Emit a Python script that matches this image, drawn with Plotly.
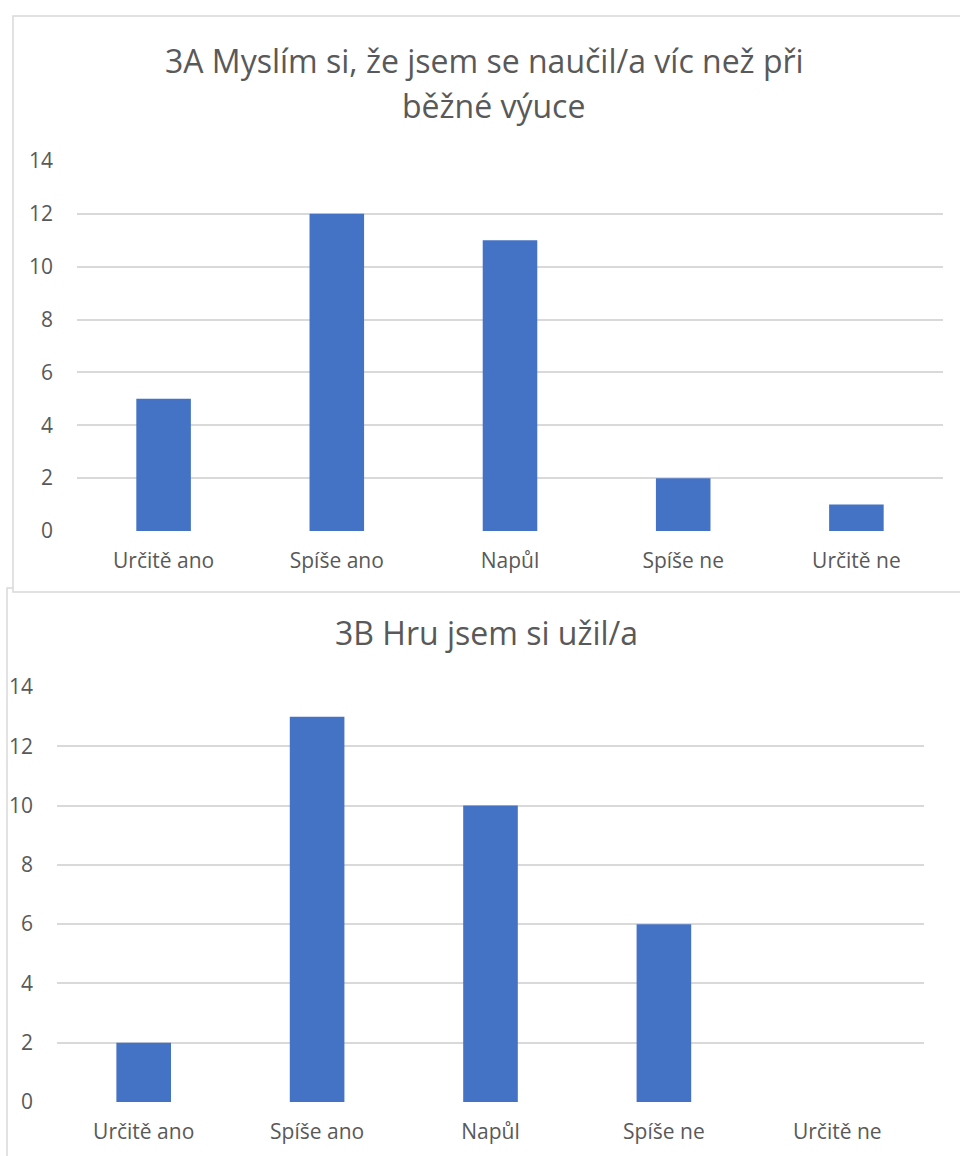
import plotly.graph_objects as go

W, H = 960, 1156

categories = ["Určitě ano", "Spíše ano", "Napůl", "Spíše ne", "Určitě ne"]
values_3a = [5, 12, 11, 2, 1]
values_3b = [2, 13, 10, 6, 0]
y_ticks = [0, 2, 4, 6, 8, 10, 12, 14]

title_3a_line1 = "3A Myslím si, že jsem se naučil/a víc než při"
title_3a_line2 = "běžné výuce"
title_3b = "3B Hru jsem si užil/a"

BAR = "#4472C4"
GRID = "#D9D9D9"
TEXT = "#595959"
FONT = "Open Sans"


def px_x(x):
    return x / W


def px_y(y):
    return 1 - y / H


fig = go.Figure()
fig.add_trace(go.Bar(x=categories, y=values_3a, marker=dict(color=BAR, line=dict(width=0)),
                     xaxis="x", yaxis="y", hoverinfo="x+y"))
fig.add_trace(go.Bar(x=categories, y=values_3b, marker=dict(color=BAR, line=dict(width=0)),
                     xaxis="x2", yaxis="y2", hoverinfo="x+y"))

tick_font = dict(family=FONT, size=21, color=TEXT)

common_x = dict(type="category", showgrid=False, zeroline=False, showline=False,
                ticks="", tickfont=tick_font, ticklabelstandoff=15, fixedrange=True,
                automargin=False)
common_y = dict(range=[0, 14], tickvals=y_ticks, showgrid=True, gridcolor=GRID, gridwidth=1.5,
                zeroline=False, showline=False, ticks="", tickfont=tick_font,
                ticklabelstandoff=23, fixedrange=True, automargin=False)

fig.update_layout(
    width=W, height=H,
    autosize=False,
    margin=dict(l=0, r=0, t=0, b=0, pad=0, autoexpand=False),
    paper_bgcolor="white",
    plot_bgcolor="rgba(0,0,0,0)",
    showlegend=False,
    bargap=0.685,
    xaxis=dict(domain=[px_x(77), px_x(943)], anchor="y", **common_x),
    yaxis=dict(domain=[px_y(531), px_y(161)], anchor="x", **common_y),
    xaxis2=dict(domain=[px_x(57), px_x(924)], anchor="y2", **common_x),
    yaxis2=dict(domain=[px_y(1102), px_y(687)], anchor="x2", **common_y),
    shapes=[
        # lower chart panel (partly hidden behind the upper one)
        dict(type="rect", xref="paper", yref="paper", layer="below",
             x0=px_x(7), x1=px_x(975), y0=px_y(1175), y1=px_y(588),
             fillcolor="white", line=dict(color=GRID, width=1.5)),
        # upper chart panel
        dict(type="rect", xref="paper", yref="paper", layer="below",
             x0=px_x(13), x1=px_x(975), y0=px_y(592), y1=px_y(16),
             fillcolor="white", line=dict(color=GRID, width=1.5)),
    ],
    annotations=[
        dict(text=title_3a_line1, xref="paper", yref="paper", x=px_x(484), y=px_y(61),
             xanchor="center", yanchor="middle", showarrow=False,
             font=dict(family=FONT, size=32, color=TEXT)),
        dict(text=title_3a_line2, xref="paper", yref="paper", x=px_x(493), y=px_y(105),
             xanchor="center", yanchor="middle", showarrow=False,
             font=dict(family=FONT, size=32, color=TEXT)),
        dict(text=title_3b, xref="paper", yref="paper", x=px_x(486), y=px_y(632),
             xanchor="center", yanchor="middle", showarrow=False,
             font=dict(family=FONT, size=32, color=TEXT)),
    ],
)

fig.write_html("out.html", config={"displayModeBar": False})
